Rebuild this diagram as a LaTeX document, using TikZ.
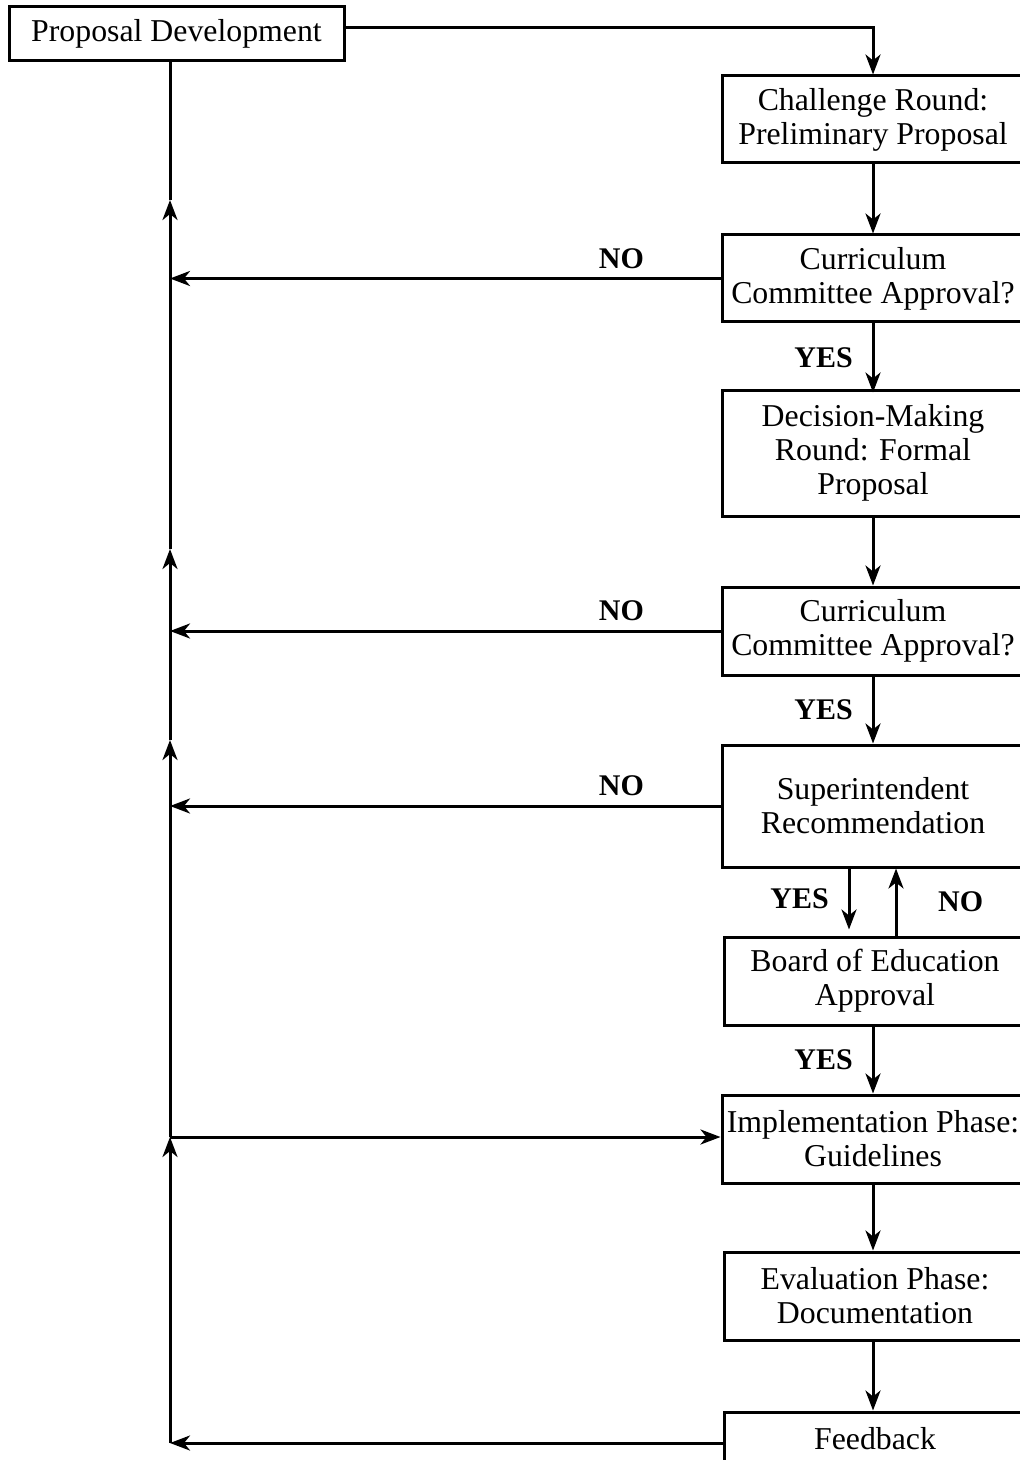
\documentclass[tikz,border=0pt]{standalone}
\usepackage{fontspec}
\setmainfont{Liberation Serif}
\usepackage{tikz}
\usetikzlibrary{arrows.meta}

\begin{document}
\begin{tikzpicture}[x=0.5pt, y=-0.5pt,
    line width=1.5pt,
    >={Stealth[length=10pt, width=7.5pt, inset=3pt]},
    stagebox/.style={draw, align=center, inner sep=0pt, minimum width=151pt,
        font=\fontsize{15.9}{17}\selectfont},
    answer/.style={font=\fontsize{15}{16}\selectfont\bfseries}]
    \clip (0,0) rectangle (1020,1460);
    \useasboundingbox (0,0) rectangle (1020,1460);

    % Stages
    \node[stagebox, minimum width=167.5pt, minimum height=27pt] (PD) at (176.5,34) {Proposal Development};
    \node[stagebox, minimum height=43.5pt] (CR) at (873,119.5) {Challenge Round:\\Preliminary Proposal};
    \node[stagebox, minimum height=43.5pt] (CC1) at (873,278.5) {Curriculum\\Committee Approval?};
    \node[stagebox, minimum height=63pt] (DM) at (873,453) {Decision-Making\\Round: Formal\\Proposal};
    \node[stagebox, minimum height=44pt] (CC2) at (873,631) {Curriculum\\Committee Approval?};
    \node[stagebox, minimum height=61pt] (SR) at (873,806) {Superintendent\\Recommendation};
    \node[stagebox, minimum height=44pt] (BE) at (875,981) {Board of Education\\Approval};
    \node[stagebox, minimum height=44pt] (IP) at (873,1139) {Implementation Phase:\\Guidelines};
    \node[stagebox, minimum height=44pt] (EP) at (875,1296) {Evaluation Phase:\\Documentation};
    \node[stagebox, minimum height=27pt] (FB) at (875,1439) {Feedback};

    % Points on the return line
    \coordinate (top) at (170,61);
    \coordinate (t1) at (170,200);
    \coordinate (t2) at (170,549);
    \coordinate (t3) at (170,740);
    \coordinate (t4) at (170,1137);
    \coordinate (bot) at (170,1443);

    % Main flow
    \draw[->] (PD.east |- 0,28) -| (CR.north -| 873,0);
    \draw[->] (CR.south -| 873,0) -- (CC1.north -| 873,0);
    \draw[->] (CC1.south -| 873,0) -- node[answer, left=6pt] {YES} ([yshift=-2pt]DM.north -| 873,0);
    \draw[->] (DM.south -| 873,0) -- (CC2.north -| 873,0);
    \draw[->] (CC2.south -| 873,0) -- node[answer, left=6pt] {YES} (SR.north -| 873,0);
    \draw[->] (SR.south -| 849,0) -- node[answer, left=6pt] {YES} ([yshift=3pt]BE.north -| 849,0);
    \draw[->] (BE.north -| 896,0) -- node[answer, right=17pt] {NO} (SR.south -| 896,0);
    \draw[->] (BE.south -| 873,0) -- node[answer, left=6pt] {YES} (IP.north -| 873,0);
    \draw[->] (IP.south -| 873,0) -- (EP.north -| 873,0);
    \draw[->] (EP.south -| 873,0) -- (FB.north -| 873,0);

    % Rejections
    \draw[->] (CC1.west) -- node[answer, pos=0.18, above=1pt] {NO} (CC1.west -| top);
    \draw[->] (CC2.west) -- node[answer, pos=0.18, above=1pt] {NO} (CC2.west -| top);
    \draw[->] (SR.west) -- node[answer, pos=0.18, above=1pt] {NO} (SR.west -| top);
    \draw[->] (FB.west |- bot) -- (bot);
    \draw[->] (t4) -- (IP.west |- t4);

    % Return line
    \draw[->] (bot) -- (t4);
    \draw[->] (t4) -- (t3);
    \draw[->] (t3) -- (t2);
    \draw[->] (t2) -- (t1);
    \draw (t1) -- (top);
\end{tikzpicture}
\end{document}
